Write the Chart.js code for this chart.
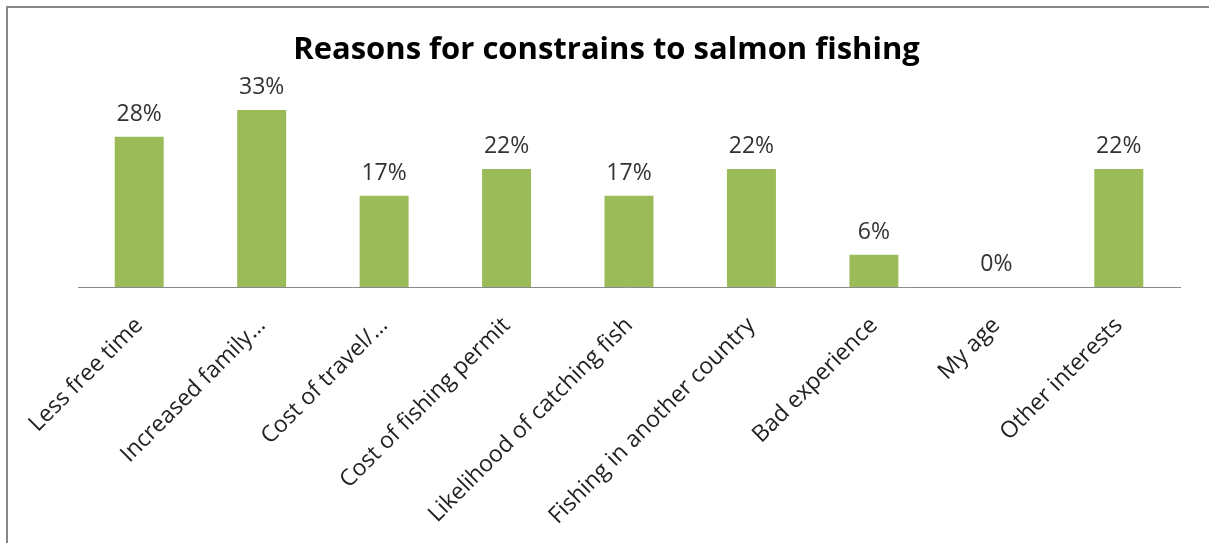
<!DOCTYPE html>
<html>
<head>
<meta charset="utf-8">
<script src="https://cdn.jsdelivr.net/npm/chart.js@4"></script>
<style>
html, body { margin: 0; padding: 0; overflow: hidden; background: #fff; }
#frame {
  position: absolute; left: 6px; top: 6px;
  width: 1300px; height: 700px;
  border: 2px solid #868686;
}
#wrap { position: absolute; left: 0; top: 0; width: 1209px; height: 543px; }
</style>
</head>
<body>
<div id="frame"></div>
<div id="wrap"><canvas id="reasonsChart"></canvas></div>
<script>
const reasons = [
  "Less free time",
  "Increased family…",
  "Cost of travel/…",
  "Cost of fishing permit",
  "Likelihood of catching fish",
  "Fishing in another country",
  "Bad experience",
  "My age",
  "Other interests"
]
const shares = [28, 33, 17, 22, 17, 22, 6, 0, 22]

// percent labels above each bar
const valueLabels = {
  id: "valueLabels",
  afterDatasetsDraw(chart){
    const ctx = chart.ctx
    const meta = chart.getDatasetMeta(0)
    ctx.save()
    ctx.font = "23px 'Open Sans'"
    ctx.fillStyle = "#333333"
    ctx.textAlign = "center"
    ctx.textBaseline = "alphabetic"
    meta.data.forEach((bar, i) => {
      ctx.fillText(shares[i] + "%", bar.x, bar.y - 16)
    })
    ctx.restore()
  }
}

// blank side axes that only reserve room left and right of the bars
const spacer = (w, pos) => ({
  type: "linear",
  position: pos,
  display: true,
  afterFit(scale){ scale.width = w },
  grid: { display: false },
  border: { display: false },
  ticks: { display: false }
})

const ctx = document.getElementById("reasonsChart")

new Chart(ctx, {
  type: "bar",
  data: {
    labels: reasons,
    datasets: [{
      data: shares,
      yAxisID: "y",
      backgroundColor: "#9bbb59",
      barPercentage: 0.8,
      categoryPercentage: 0.5
    }]
  },
  options: {
    responsive: true,
    maintainAspectRatio: false,
    animation: false,
    layout: {
      padding: { left: 4, right: 0, top: 0, bottom: 0 }
    },
    plugins: {
      legend: { display: false },
      tooltip: { enabled: false },
      title: {
        display: true,
        text: "Reasons for constrains to salmon fishing",
        color: "#000",
        font: { family: "Open Sans", size: 31, weight: "bold" },
        padding: { top: 32, bottom: 30 }
      }
    },
    scales: {
      x: {
        afterFit(scale){ scale.height = 256 },
        grid: { display: true, drawOnChartArea: false, drawTicks: false },
        border: { display: true, color: "#8a8a8a", width: 1 },
        ticks: {
          color: "#222",
          font: { family: "Open Sans", size: 23 },
          maxRotation: 45,
          minRotation: 45,
          autoSkip: false,
          padding: 25
        }
      },
      y: Object.assign(spacer(74, "left"), { min: 0, max: 35 }),
      yRight: spacer(29, "right")
    }
  },
  plugins: [valueLabels]
})
</script>
</body>
</html>
